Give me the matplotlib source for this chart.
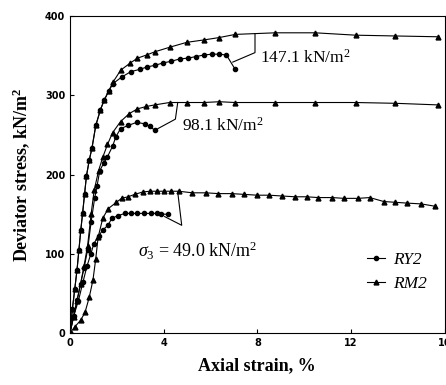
import matplotlib.pyplot as plt

# strain (%) and deviator stress (kN/m2)
ry2_147_x = [0, 0.1, 0.2, 0.3, 0.38, 0.46, 0.54, 0.62, 0.7, 0.82, 0.94, 1.1, 1.3, 1.46, 1.66, 1.84, 2.2, 2.6, 3.0, 3.3, 3.64, 3.97, 4.32, 4.68, 5.03, 5.38, 5.72, 6.06, 6.38, 6.68, 7.05]
ry2_147_y = [0, 30, 55, 80, 105, 130, 152, 175, 198, 218, 234, 262, 282, 294, 306, 315, 323, 330, 333, 336, 338, 341, 343, 346, 347, 349, 351, 352, 352, 351, 333]
rm2_147_x = [0, 0.1, 0.2, 0.3, 0.38, 0.46, 0.54, 0.62, 0.7, 0.82, 0.94, 1.1, 1.3, 1.46, 1.66, 1.84, 2.17, 2.58, 2.88, 3.27, 3.62, 4.28, 4.99, 5.72, 6.37, 7.06, 8.77, 10.47, 12.2, 13.9, 15.7]
rm2_147_y = [0, 30, 55, 80, 105, 130, 152, 175, 198, 218, 234, 262, 282, 294, 306, 317, 332, 341, 347, 351, 355, 361, 367, 370, 373, 377, 379, 379, 376, 375, 374]

ry2_98_x = [0, 0.15, 0.3, 0.45, 0.6, 0.75, 0.9, 1.05, 1.15, 1.27, 1.45, 1.59, 1.82, 1.96, 2.16, 2.48, 2.85, 3.2, 3.4, 3.62]
ry2_98_y = [0, 22, 42, 62, 82, 105, 140, 170, 185, 205, 215, 222, 236, 248, 258, 262, 266, 264, 261, 256]
rm2_98_x = [0, 0.15, 0.3, 0.45, 0.6, 0.75, 0.9, 1.03, 1.22, 1.4, 1.6, 1.82, 2.16, 2.53, 2.88, 3.26, 3.62, 4.25, 4.99, 5.72, 6.38, 7.04, 8.76, 10.47, 12.2, 13.9, 15.7]
rm2_98_y = [0, 20, 40, 62, 85, 110, 150, 180, 205, 222, 238, 253, 267, 277, 283, 286, 288, 291, 291, 291, 292, 291, 291, 291, 291, 290, 288]

ry2_49_x = [0, 0.14, 0.36, 0.55, 0.72, 0.89, 1.02, 1.23, 1.4, 1.62, 1.79, 2.04, 2.34, 2.6, 2.85, 3.15, 3.45, 3.7, 3.9, 4.2]
ry2_49_y = [0, 20, 41, 64, 84, 100, 113, 123, 130, 136, 145, 148, 151, 151, 151, 151, 151, 151, 150, 150]
rm2_49_x = [0, 0.21, 0.45, 0.64, 0.82, 0.98, 1.1, 1.2, 1.4, 1.63, 1.98, 2.2, 2.48, 2.76, 3.1, 3.4, 3.7, 4.0, 4.3, 4.64, 5.23, 5.8, 6.34, 6.9, 7.45, 8.0, 8.5, 9.05, 9.6, 10.1, 10.6, 11.2, 11.7, 12.3, 12.8, 13.4, 13.9, 14.4, 15.0, 15.6]
rm2_49_y = [0, 8, 16, 26, 45, 67, 94, 121, 145, 157, 165, 170, 172, 175, 178, 179, 179, 179, 179, 179, 177, 177, 176, 176, 175, 174, 174, 173, 172, 172, 171, 171, 170, 170, 171, 166, 165, 164, 163, 160]

xticks = [0, 4, 8, 12, 16]
yticks = [0, 100, 200, 300, 400]

plt.rcParams['mathtext.fontset'] = 'custom'
plt.rcParams['mathtext.rm'] = 'Liberation Serif'
plt.rcParams['mathtext.it'] = 'Liberation Serif:italic'
plt.rcParams['mathtext.bf'] = 'Liberation Serif:bold'

fig = plt.figure(figsize=(4.46, 3.85), dpi=100)
ax = fig.add_axes([0.157, 0.135, 0.84, 0.823])

circ = dict(color='black', marker='o', markersize=3, linewidth=0.8)
tri = dict(color='black', marker='^', markersize=3.5, linewidth=0.8)

ax.plot(ry2_147_x, ry2_147_y, **circ)
ax.plot(rm2_147_x, rm2_147_y, **tri)
ax.plot(ry2_98_x, ry2_98_y, **circ)
ax.plot(rm2_98_x, rm2_98_y, **tri)
ax.plot(ry2_49_x, ry2_49_y, **circ, label='RY2')
ax.plot(rm2_49_x, rm2_49_y, **tri, label='RM2')

# callout brackets
ax.plot([7.9, 7.9, 6.95], [378, 354, 342], color='black', linewidth=0.8)
ax.plot([4.6, 4.5, 3.75], [291, 270, 258], color='black', linewidth=0.8)
ax.plot([4.6, 4.77, 4.04], [178, 136, 147], color='black', linewidth=0.8)

serif = 'Liberation Serif'
ax.text(8.1, 347, r'147.1 kN/m$^2$', fontsize=12.5, family=serif, va='center')
ax.text(4.8, 262, r'98.1 kN/m$^2$', fontsize=12.5, family=serif, va='center')
ax.text(2.9, 103, r'$\mathit{\sigma_3}$ = 49.0 kN/m$^2$', fontsize=13, family=serif, va='center')

leg = ax.legend(loc='lower right', bbox_to_anchor=(0.995, 0.08), frameon=False,
                handlelength=1.0, handletextpad=0.5, labelspacing=0.45,
                prop={'family': serif, 'style': 'italic', 'size': 12.5})

ax.set_xlim(0, 16)
ax.set_ylim(0, 400)
ax.set_xticks(xticks)
ax.set_yticks(yticks)
ax.tick_params(direction='in', length=3, labelsize=7)
for lab in ax.get_xticklabels() + ax.get_yticklabels():
    lab.set_fontweight('bold')

ax.set_xlabel('Axial strain, %', fontsize=13, fontweight='bold', family=serif, labelpad=7)
ax.set_ylabel(r'Deviator stress, kN/m$^\mathbf{2}$', fontsize=13, fontweight='bold', family=serif, labelpad=9)

plt.savefig('out.png', dpi=100)
